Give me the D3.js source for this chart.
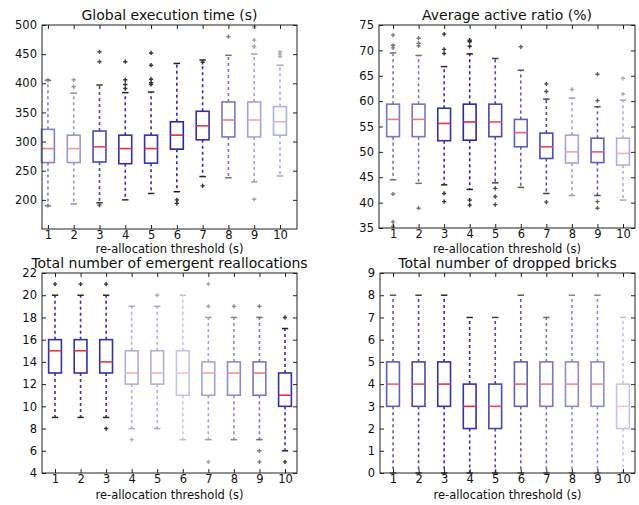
<!DOCTYPE html>
<html>
<head>
    <script src="https://cdnjs.cloudflare.com/ajax/libs/d3/7.8.5/d3.min.js"></script>
    <style>
        body { margin: 0; background: white; }
        text { font-family: "DejaVu Sans", sans-serif; fill: #111; }
        .title { font-size: 14px; text-anchor: middle; }
        .xlabel { font-size: 11.5px; text-anchor: middle; }
        .tick text { font-size: 11.5px; font-family: "DejaVu Sans", sans-serif; fill: #111; }
        .tick line { stroke: #222; }
        .frame { fill: none; stroke: #222; stroke-width: 1; }
    </style>
</head>
<body>
    <svg width="639" height="505"></svg>
    <script>
        // thresholds (x categories)
        const thresholds = [1, 2, 3, 4, 5, 6, 7, 8, 9, 10];

        // Global execution time (s)
        const execQ1 = [264, 264, 265, 262, 263, 287, 303, 308, 308, 311];
        const execMed = [288, 288, 291, 288, 288, 311, 327, 337, 337, 334];
        const execQ3 = [321, 311, 318, 311, 311, 334, 352, 368, 368, 360];
        const execLo = [190, 193, 195, 200, 211, 214, 240, 238, 231, 241];
        const execHi = [405, 383, 397, 384, 385, 434, 440, 448, 450, 431];
        const execOut = [[406, 190], [394, 406], [454, 437, 191], [406, 398, 391, 437], [452, 431, 407, 401, 398],
                         [194, 200], [436, 224], [480], [474, 463, 497, 201], [454, 450, 446]];

        // Average active ratio (%)
        const ratioQ1 = [53.0, 53.0, 52.2, 52.3, 53.0, 51.0, 48.7, 47.8, 47.9, 47.4];
        const ratioMed = [56.4, 56.4, 55.6, 55.9, 55.9, 53.8, 51.0, 50.0, 50.0, 49.7];
        const ratioQ3 = [59.4, 59.4, 58.6, 59.4, 59.4, 56.4, 53.7, 53.3, 52.7, 52.7];
        const ratioLo = [44.5, 43.8, 43.5, 42.6, 43.9, 43.0, 41.8, 41.4, 41.4, 40.5];
        const ratioHi = [69.5, 69.0, 66.8, 69.3, 68.4, 66.1, 60.4, 60.6, 58.9, 60.2];
        const ratioOut = [[73, 71, 70.5, 41.7, 36.2, 35.3], [72.4, 71.4, 70.9, 38.9], [73.2, 70.2, 69.4, 41.8, 40.2],
                          [72.0, 71.7, 70.8, 40.5, 39.5], [42.8, 41.2, 39.6], [70.7], [61.9, 63.4, 40.1],
                          [62.3], [60.1, 65.3, 40.2, 38.9], [61.4, 64.5]];

        // Total number of emergent reallocations
        const emergQ1 = [13, 13, 13, 12, 12, 11, 11, 11, 11, 10];
        const emergMed = [15, 15, 14, 13, 13, 13, 13, 13, 13, 11];
        const emergQ3 = [16, 16, 16, 15, 15, 15, 14, 14, 14, 13];
        const emergLo = [9, 9, 9, 8, 8, 7, 7, 7, 7, 6];
        const emergHi = [20, 20, 20, 19, 19, 20, 18, 18, 18, 17];
        const emergOut = [[21], [21], [21, 8], [7], [20], [], [19, 21, 5], [19], [19, 6, 5], [18, 5]];

        // Total number of dropped bricks
        const dropQ1 = [3, 3, 3, 2, 2, 3, 3, 3, 3, 2];
        const dropMed = [4, 4, 4, 3, 3, 4, 4, 4, 4, 3];
        const dropQ3 = [5, 5, 5, 4, 4, 5, 5, 5, 5, 4];
        const dropLo = [0, 0, 0, 0, 0, 0, 0, 0, 0, 0];
        const dropHi = [8, 8, 8, 7, 7, 8, 7, 8, 8, 7];
        const dropOut = [[], [], [], [], [], [], [], [], [], []];

        const panels = [
            { title: "Global execution time (s)", q1: execQ1, med: execMed, q3: execQ3, lo: execLo, hi: execHi, out: execOut,
              yDomain: [150, 500], yTicks: d3.range(200, 501, 50), xDomain: [0.77, 10.66],
              box: { left: 42, right: 297, top: 25, bottom: 229 }, labelY: 253,
              ink: [0.55, 0.45, 0.8, 0.9, 0.9, 0.95, 0.9, 0.6, 0.4, 0.35] },
            { title: "Average active ratio (%)", q1: ratioQ1, med: ratioMed, q3: ratioQ3, lo: ratioLo, hi: ratioHi, out: ratioOut,
              yDomain: [35, 75], yTicks: d3.range(35, 76, 5), xDomain: [0.45, 10.47],
              box: { left: 379, right: 635, top: 25, bottom: 228 }, labelY: 253,
              ink: [0.6, 0.6, 0.9, 0.95, 0.8, 0.7, 0.8, 0.4, 0.7, 0.35] },
            { title: "Total number of emergent reallocations", q1: emergQ1, med: emergMed, q3: emergQ3, lo: emergLo, hi: emergHi, out: emergOut,
              yDomain: [4, 22], yTicks: d3.range(4, 23, 2), xDomain: [0.49, 10.47],
              box: { left: 42, right: 297, top: 273, bottom: 473 }, labelY: 499,
              ink: [0.9, 0.9, 0.9, 0.35, 0.35, 0.25, 0.4, 0.5, 0.6, 0.9] },
            { title: "Total number of dropped bricks", q1: dropQ1, med: dropMed, q3: dropQ3, lo: dropLo, hi: dropHi, out: dropOut,
              yDomain: [0, 9], yTicks: d3.range(0, 10, 1), xDomain: [0.49, 10.47],
              box: { left: 380, right: 635, top: 273, bottom: 473 }, labelY: 499,
              ink: [0.7, 0.8, 0.9, 0.9, 0.8, 0.7, 0.6, 0.5, 0.5, 0.25] }
        ];

        const svg = d3.select("svg");
        const blue = "#1c1ca8";
        const red = "#e8201c";

        // draw plots first, then titles on top (bottom titles overlap top x labels)
        panels.forEach(p => {
            const b = p.box;
            const w = b.right - b.left;
            const h = b.bottom - b.top;
            const g = svg.append("g").attr("transform", `translate(${b.left},${b.top})`);

            const x = d3.scaleLinear().domain(p.xDomain).range([0, w]);
            const y = d3.scaleLinear().domain(p.yDomain).range([h, 0]);

            // axes with inward ticks
            g.append("g").call(d3.axisLeft(y).tickValues(p.yTicks).tickSize(-4).tickPadding(5))
                .call(a => a.select(".domain").remove());
            g.append("g").attr("transform", `translate(${w},0)`)
                .call(d3.axisRight(y).tickValues(p.yTicks).tickSize(-4).tickFormat(""))
                .call(a => a.select(".domain").remove());
            g.append("g").attr("transform", `translate(0,${h})`)
                .call(d3.axisBottom(x).tickValues(thresholds).tickSize(-4).tickPadding(2).tickFormat(d3.format("d")))
                .call(a => a.select(".domain").remove());
            g.append("g")
                .call(d3.axisTop(x).tickValues(thresholds).tickSize(-4).tickFormat(""))
                .call(a => a.select(".domain").remove());

            const bw = x(1.25) - x(1);   // half box width
            const cw = x(1.125) - x(1);  // half cap width

            const boxes = g.selectAll(".bp")
                .data(thresholds.map((t, i) => ({
                    t, q1: p.q1[i], med: p.med[i], q3: p.q3[i], lo: p.lo[i], hi: p.hi[i], out: p.out[i], ink: p.ink[i]
                })))
                .enter().append("g")
                .attr("class", "bp")
                .attr("opacity", d => d.ink);

            // whiskers
            boxes.append("line")
                .attr("x1", d => x(d.t)).attr("x2", d => x(d.t))
                .attr("y1", d => y(d.q3)).attr("y2", d => y(d.hi))
                .attr("stroke", blue).attr("stroke-width", 1.6).attr("stroke-dasharray", "3,3");
            boxes.append("line")
                .attr("x1", d => x(d.t)).attr("x2", d => x(d.t))
                .attr("y1", d => y(d.q1)).attr("y2", d => y(d.lo))
                .attr("stroke", blue).attr("stroke-width", 1.6).attr("stroke-dasharray", "3,3");

            // caps
            boxes.selectAll(".cap")
                .data(d => [d.lo, d.hi].map(v => ({ t: d.t, v })))
                .enter().append("line")
                .attr("x1", d => x(d.t) - cw).attr("x2", d => x(d.t) + cw)
                .attr("y1", d => y(d.v)).attr("y2", d => y(d.v))
                .attr("stroke", "#111").attr("stroke-width", 1.5);

            // box
            boxes.append("rect")
                .attr("x", d => x(d.t) - bw)
                .attr("width", 2 * bw)
                .attr("y", d => y(d.q3))
                .attr("height", d => y(d.q1) - y(d.q3))
                .attr("fill", "none")
                .attr("stroke", blue).attr("stroke-width", 1.6);

            // median
            boxes.append("line")
                .attr("x1", d => x(d.t) - bw).attr("x2", d => x(d.t) + bw)
                .attr("y1", d => y(d.med)).attr("y2", d => y(d.med))
                .attr("stroke", red).attr("stroke-width", 1.6);

            // fliers
            boxes.selectAll(".flier")
                .data(d => d.out.map(v => ({ t: d.t, v })))
                .enter().append("path")
                .attr("d", d3.symbol(d3.symbolCross, 10))
                .attr("transform", d => `translate(${x(d.t)},${y(d.v)})`)
                .attr("fill", "#222");

            g.append("rect").attr("class", "frame").attr("width", w).attr("height", h);

            svg.append("text").attr("class", "xlabel")
                .attr("x", b.left + w / 2).attr("y", p.labelY)
                .text("re-allocation threshold (s)");
        });

        panels.forEach(p => {
            const b = p.box;
            svg.append("text").attr("class", "title")
                .attr("x", (b.left + b.right) / 2).attr("y", b.top - 5)
                .text(p.title);
        });
    </script>
</body>
</html>
